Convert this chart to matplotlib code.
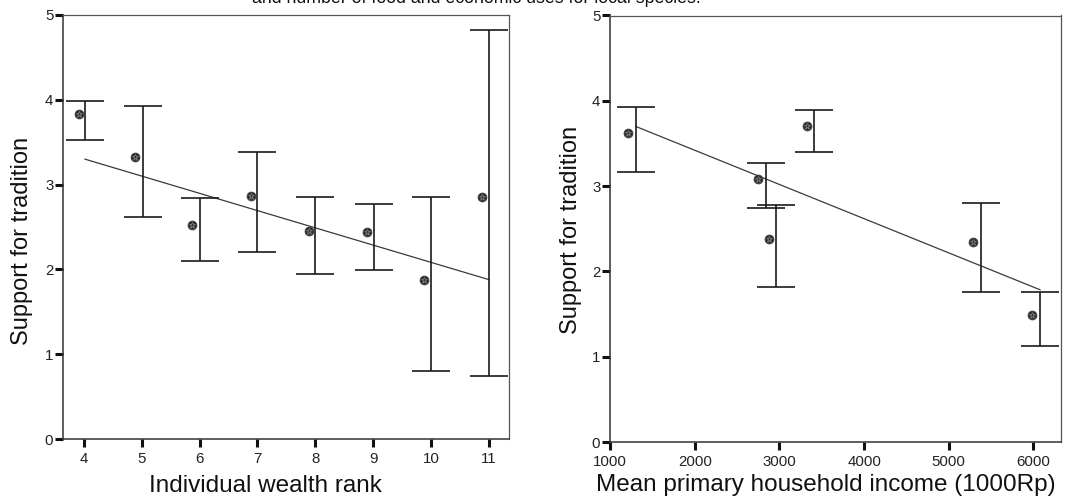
import matplotlib
matplotlib.use("Agg")
import matplotlib.pyplot as plt

plt.rcParams['font.family'] = ['Liberation Sans', 'DejaVu Sans']

# ---- Left panel data: Individual wealth rank ----
rank_point_x = [3.91, 4.88, 5.87, 6.89, 7.89, 8.89, 9.88, 10.88]
rank_bar_x = [4.02, 5.02, 6.0, 7.0, 8.0, 9.01, 10.01, 11.0]
rank_mean = [3.83, 3.33, 2.52, 2.87, 2.45, 2.44, 1.875, 2.85]
rank_hi = [3.99, 3.93, 2.84, 3.39, 2.85, 2.77, 2.85, 4.82]
rank_lo = [3.53, 2.62, 2.10, 2.21, 1.94, 1.99, 0.80, 0.74]
rank_fit_x = [4.02, 11.0]
rank_fit_y = [3.30, 1.88]
rank_ticks = [4, 5, 6, 7, 8, 9, 10, 11]

# ---- Right panel data: Mean primary household income ----
inc_point_x = [1209, 2751, 2874, 3322, 5286, 5982]
inc_bar_x = [1302, 2838, 2964, 3409, 5380, 6077]
inc_mean = [3.62, 3.08, 2.375, 3.71, 2.34, 1.49]
inc_hi = [3.93, 3.27, 2.78, 3.89, 2.80, 1.76]
inc_lo = [3.16, 2.74, 1.82, 3.40, 1.76, 1.12]
inc_fit_x = [1303, 6077]
inc_fit_y = [3.70, 1.785]
inc_ticks = [1000, 2000, 3000, 4000, 5000, 6000]

y_ticks = [0, 1, 2, 3, 4, 5]

title_text = "and number of food and economic uses for local species."
y_label = "Support for tradition"
x_label_left = "Individual wealth rank"
x_label_right = "Mean primary household income (1000Rp)"

W, H = 1079, 498
fig = plt.figure(figsize=(W / 100, H / 100), dpi=100)

def px_axes(x0, x1, ytop, ybot):
    return fig.add_axes([x0 / W, 1 - ybot / H, (x1 - x0) / W, (ybot - ytop) / H])

axL = px_axes(63, 509, 15, 439)
axR = px_axes(610, 1061, 15.5, 442)


def draw(ax, px, bx, mean, hi, lo, fx, fy, xticks, xlim, xlabel,
         xl_pos, yl_pos):
    yerr = [[m - l for m, l in zip(mean, lo)], [h - m for m, h in zip(mean, hi)]]
    ax.errorbar(bx, mean, yerr=yerr, fmt='none', ecolor='#1a1a1a',
                elinewidth=1.2, capsize=13.7, capthick=1.2, zorder=3)
    ax.plot(fx, fy, color='#3a3a3a', lw=0.9, zorder=2)
    ax.plot(px, mean, linestyle='none', marker='o', ms=6.4,
            mfc='#2a2a2a', mec='#444444', mew=0.6, zorder=4)
    ax.plot(px, mean, linestyle='none', marker='*', ms=4.6,
            mfc='none', mec='#8a8a8a', mew=0.5, zorder=5)
    ax.set_xlim(*xlim)
    ax.set_ylim(0, 5)
    ax.set_xticks(xticks)
    ax.set_yticks(y_ticks)
    ax.tick_params(axis='both', direction='out', length=6, width=2.2,
                   color='#111111', labelsize=10.8, labelcolor='#222222')
    ax.tick_params(axis='y', pad=1.0)
    ax.tick_params(axis='x', pad=3.0)
    for s in ['left', 'bottom']:
        ax.spines[s].set_color('#333333')
        ax.spines[s].set_linewidth(1.1)
    for s in ['top', 'right']:
        ax.spines[s].set_color('#555555')
        ax.spines[s].set_linewidth(0.9)
    ax.set_xlabel(xlabel, fontsize=17.5, color='#111111')
    ax.set_ylabel(y_label, fontsize=17, color='#111111')
    ax.xaxis.set_label_coords(*xl_pos)
    ax.xaxis.label.set_va('top')
    ax.yaxis.set_label_coords(*yl_pos)
    ax.yaxis.label.set_va('center')


draw(axL, rank_point_x, rank_bar_x, rank_mean, rank_hi, rank_lo,
     rank_fit_x, rank_fit_y, rank_ticks, (3.64, 11.35), x_label_left,
     (0.455, -0.085), (-0.092, 0.467))
draw(axR, inc_point_x, inc_bar_x, inc_mean, inc_hi, inc_lo,
     inc_fit_x, inc_fit_y, inc_ticks, (1000, 6325), x_label_right,
     (0.479, -0.075), (-0.0865, 0.497))

fig.text(476 / W, 1 - 3 / H, title_text, ha='center', va='baseline',
         fontsize=12.8, color='#111111')

fig.savefig("out.png", dpi=100)
